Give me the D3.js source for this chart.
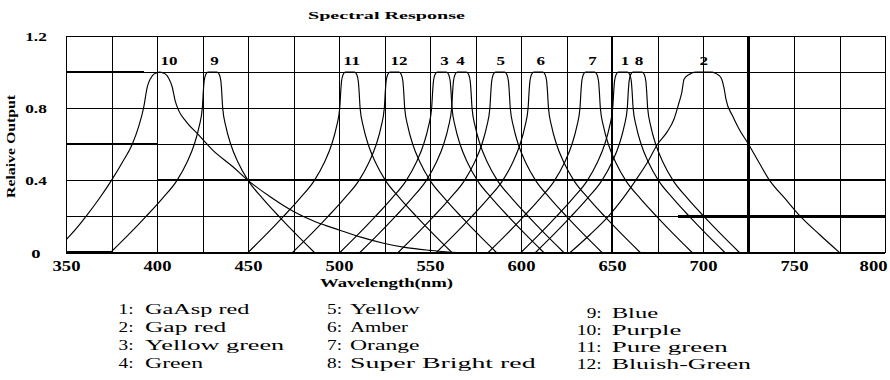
<!DOCTYPE html>
<html><head><meta charset="utf-8">
<script src="https://cdn.jsdelivr.net/npm/d3@7/dist/d3.min.js"></script>
<style>body{margin:0;background:#fff;} svg{display:block;}</style>
</head><body><svg id="c" width="890" height="380"></svg>
<script>
// ---------- data ----------
const title = "Spectral Response";
const xLabel = "Wavelength(nm)";
const yLabel = "Relaive Output";
const xGridValues = [350,375,400,425,450,475,500,525,550,575,600,625,650,675,700,725,750,775,800];
const xTickLabels = [350,400,450,500,550,600,650,700,750,800];
const yGridValues = [0,0.2,0.4,0.6,0.8,1.0,1.2];
const yTickLabels = [0,0.4,0.8,1.2];
// heavier reference segments seen on the grid: [x1, x2, y1, y2]
const heavySegments = [
  [650,650,0,1.2],[725,725,0,1.2],
  [400,800,0.4,0.4],[350,393,1.0,1.0],[350,400,0.6,0.6],
  [686,800,0.2,0.2],[350,375,0,0]
];
const seriesIds = [1,2,3,4,5,6,7,8,9,10,11,12];
const seriesNames = ["GaAsp red","Gap red","Yellow green","Green","Yellow","Amber","Orange",
  "Super Bright red","Blue","Purple","Pure green","Bluish-Green"];
const peakLabelAt = [657.1,700.4,558,566.8,588.9,610.9,639.3,664.8,431.6,406.6,507,533];

const curve1 = [[600,0],[610,0.1],[619.5,0.2],[628.5,0.3],[636.5,0.4],[642,0.5],[646,0.6],[648.7,0.7],[650.4,0.8],[651,0.9],[651.4,0.95],[652.2,0.985],[653.5,1],[658.5,1],[659.8,0.985],[660.6,0.95],[661,0.9],[661.6,0.8],[663.3,0.7],[666,0.6],[670,0.5],[675.5,0.4],[683.5,0.3],[692.5,0.2],[702,0.1],[712,0]];
const curve2 = [[627,0],[638,0.1],[648,0.2],[656,0.3],[663,0.4],[669.5,0.5],[675,0.6],[680.4,0.67],[684.1,0.74],[686.8,0.83],[688.3,0.885],[689.6,0.96],[692.4,0.987],[696,1],[705,1],[707.5,0.99],[709.9,0.969],[711.7,0.904],[712.6,0.85],[716.3,0.756],[719.5,0.69],[725,0.6],[730.7,0.5],[736.6,0.4],[745,0.3],[753.5,0.2],[764,0.1],[775,0]];
const curve3 = [[500.5,0],[510.5,0.1],[520,0.2],[529,0.3],[537,0.4],[542.5,0.5],[546.5,0.6],[549.2,0.7],[550.9,0.8],[551.5,0.9],[551.9,0.95],[552.7,0.985],[554,1],[559,1],[560.3,0.985],[561.1,0.95],[561.5,0.9],[562.1,0.8],[563.8,0.7],[566.5,0.6],[570.5,0.5],[576,0.4],[584,0.3],[593,0.2],[602.5,0.1],[612.5,0]];
const curve4 = [[511.5,0],[521.5,0.1],[531,0.2],[540,0.3],[548,0.4],[553.5,0.5],[557.5,0.6],[560.2,0.7],[561.9,0.8],[562.5,0.9],[562.9,0.95],[563.7,0.985],[565,1],[570,1],[571.3,0.985],[572.1,0.95],[572.5,0.9],[573.1,0.8],[574.8,0.7],[577.5,0.6],[581.5,0.5],[587,0.4],[595,0.3],[604,0.2],[613.5,0.1],[623.5,0]];
const curve5 = [[532.5,0],[542.5,0.1],[552,0.2],[561,0.3],[569,0.4],[574.5,0.5],[578.5,0.6],[581.2,0.7],[582.9,0.8],[583.5,0.9],[583.9,0.95],[584.7,0.985],[586,1],[591,1],[592.3,0.985],[593.1,0.95],[593.5,0.9],[594.1,0.8],[595.8,0.7],[598.5,0.6],[602.5,0.5],[608,0.4],[616,0.3],[625,0.2],[634.5,0.1],[644.5,0]];
const curve6 = [[553.5,0],[563.5,0.1],[573,0.2],[582,0.3],[590,0.4],[595.5,0.5],[599.5,0.6],[602.2,0.7],[603.9,0.8],[604.5,0.9],[604.9,0.95],[605.7,0.985],[607,1],[612,1],[613.3,0.985],[614.1,0.95],[614.5,0.9],[615.1,0.8],[616.8,0.7],[619.5,0.6],[623.5,0.5],[629,0.4],[637,0.3],[646,0.2],[655.5,0.1],[665.5,0]];
const curve7 = [[582,0],[592,0.1],[601.5,0.2],[610.5,0.3],[618.5,0.4],[624,0.5],[628,0.6],[630.7,0.7],[632.4,0.8],[633,0.9],[633.4,0.95],[634.2,0.985],[635.5,1],[640.5,1],[641.8,0.985],[642.6,0.95],[643,0.9],[643.6,0.8],[645.3,0.7],[648,0.6],[652,0.5],[657.5,0.4],[665.5,0.3],[674.5,0.2],[684,0.1],[694,0]];
const curve8 = [[608,0],[618,0.1],[627.5,0.2],[636.5,0.3],[644.5,0.4],[650,0.5],[654,0.6],[656.7,0.7],[658.4,0.8],[659,0.9],[659.4,0.95],[660.2,0.985],[661.5,1],[666.5,1],[667.8,0.985],[668.6,0.95],[669,0.9],[669.6,0.8],[671.3,0.7],[674,0.6],[678,0.5],[683.5,0.4],[691.5,0.3],[700.5,0.2],[710,0.1],[720,0]];
const curve9 = [[374.5,0],[384.5,0.1],[394,0.2],[403,0.3],[411,0.4],[416.5,0.5],[420.5,0.6],[423.2,0.7],[424.9,0.8],[425.5,0.9],[425.9,0.95],[426.7,0.985],[428,1],[433,1],[434.3,0.985],[435.1,0.95],[435.5,0.9],[436.1,0.8],[437.8,0.7],[440.5,0.6],[444.5,0.5],[450,0.4],[458,0.3],[467,0.2],[476.5,0.1],[486.5,0]];
const curve10 = [[350,0.07],[355,0.125],[361,0.2],[368,0.295],[375,0.4],[381,0.5],[386.4,0.6],[390,0.7],[392.6,0.8],[394.7,0.92],[396.5,0.965],[398.5,0.99],[401.5,1],[404.5,0.99],[406.5,0.965],[408.3,0.92],[410,0.84],[412,0.785],[415.7,0.73],[423,0.65],[430.6,0.567],[441.7,0.475],[450,0.4],[462,0.31],[475,0.227],[487,0.17],[500,0.125],[512,0.085],[525,0.05],[537,0.027],[550,0.012],[560,0.003],[567,0]];
const curve11 = [[450,0],[460,0.1],[469.5,0.2],[478.5,0.3],[486.5,0.4],[492,0.5],[496,0.6],[498.7,0.7],[500.4,0.8],[501,0.9],[501.4,0.95],[502.2,0.985],[503.5,1],[508.5,1],[509.8,0.985],[510.6,0.95],[511,0.9],[511.6,0.8],[513.3,0.7],[516,0.6],[520,0.5],[525.5,0.4],[533.5,0.3],[542.5,0.2],[552,0.1],[562,0]];
const curve12 = [[474.5,0],[484.5,0.1],[494,0.2],[503,0.3],[511,0.4],[516.5,0.5],[520.5,0.6],[523.2,0.7],[524.9,0.8],[525.5,0.9],[525.9,0.95],[526.7,0.985],[528,1],[533,1],[534.3,0.985],[535.1,0.95],[535.5,0.9],[536.1,0.8],[537.8,0.7],[540.5,0.6],[544.5,0.5],[550,0.4],[558,0.3],[567,0.2],[576.5,0.1],[586.5,0]];
const curves = [curve1,curve2,curve3,curve4,curve5,curve6,curve7,curve8,curve9,curve10,curve11,curve12];

// ---------- layout ----------
const svg = d3.select("#c");
const W = 890, L = 66, R = 885, T = 36, B = 252.5;
const x = d3.scaleLinear().domain([350,800]).range([L,R]);
const y = d3.scaleLinear().domain([0,1.2]).range([B,T]);
const serif = "'Liberation Serif','DejaVu Serif',serif";
const numW = s => String(s).split("").reduce((a,c)=>a+(c==="."?3:9.3),0);

svg.append("rect").attr("width",W).attr("height",380).attr("fill","#fff");

// grid via axes
const gx = svg.append("g").attr("transform",`translate(0,${B})`)
  .call(d3.axisBottom(x).tickValues(xGridValues).tickSize(-(B-T))
    .tickFormat(d => xTickLabels.includes(d) ? d : ""));
gx.select(".domain").remove();
gx.selectAll("line").attr("stroke","#000").attr("stroke-width",1).attr("shape-rendering","crispEdges");
gx.selectAll("text").attr("y",18).attr("dy",0).attr("fill","#000")
  .style("font-family",serif).style("font-weight","bold").style("font-size","14px")
  .each(function(d){
    if (!xTickLabels.includes(d)) return;
    const s = d3.select(this).attr("textLength",numW(d)).attr("lengthAdjust","spacingAndGlyphs");
    // keep the last label inside the picture
    if (x(d) + numW(d)/2 > W - 3) s.attr("text-anchor","end").attr("x", (W - 3) - x(d));
  });

const gy = svg.append("g").attr("transform",`translate(${L},0)`)
  .call(d3.axisLeft(y).tickValues(yGridValues).tickSize(-(R-L))
    .tickFormat(d => yTickLabels.includes(d) ? String(d) : ""));
gy.select(".domain").remove();
gy.selectAll("line").attr("stroke","#000").attr("stroke-width",1).attr("shape-rendering","crispEdges");
gy.selectAll("text").attr("x",-30).attr("dy","0.35em").attr("text-anchor","middle").attr("fill","#000")
  .style("font-family",serif).style("font-weight","bold").style("font-size","13px")
  .each(function(d){ if (yTickLabels.includes(d)) d3.select(this).attr("textLength",numW(d)).attr("lengthAdjust","spacingAndGlyphs"); });

// frame
svg.append("rect").attr("x",L).attr("y",T).attr("width",R-L).attr("height",B-T)
  .attr("fill","none").attr("stroke","#000").attr("stroke-width",1).attr("shape-rendering","crispEdges");

// heavy segments
svg.append("g").selectAll("line").data(heavySegments).join("line")
  .attr("x1",d=>x(d[0])).attr("x2",d=>x(d[1])).attr("y1",d=>y(d[2])).attr("y2",d=>y(d[3]))
  .attr("stroke","#000").attr("stroke-width",2.2).attr("shape-rendering","crispEdges");

// curves
svg.append("clipPath").attr("id","pc").append("rect").attr("x",L).attr("y",T-5).attr("width",R-L).attr("height",B-T+5);
const line = d3.line().x(d=>x(d[0])).y(d=>y(d[1])).curve(d3.curveMonotoneX);
svg.append("g").attr("clip-path","url(#pc)").selectAll("path").data(curves).join("path")
  .attr("d",line).attr("fill","none").attr("stroke","#000").attr("stroke-width",1.15);

// peak labels
svg.append("g").selectAll("text").data(seriesIds).join("text")
  .attr("x",(d,i)=>x(peakLabelAt[i])).attr("y",y(1.0)-7).attr("text-anchor","middle")
  .style("font-family",serif).style("font-weight","bold").style("font-size","13px")
  .attr("textLength",d=>String(d).length*8.5).attr("lengthAdjust","spacingAndGlyphs")
  .text(d=>d);

// titles
svg.append("text").attr("x",386.5).attr("y",18.5).attr("text-anchor","middle")
  .style("font-family",serif).style("font-weight","bold").style("font-size","11px")
  .attr("textLength",157).attr("lengthAdjust","spacingAndGlyphs").text(title);
svg.append("text").attr("x",386.5).attr("y",287).attr("text-anchor","middle")
  .style("font-family",serif).style("font-weight","bold").style("font-size","11.5px")
  .attr("textLength",133).attr("lengthAdjust","spacingAndGlyphs").text(xLabel);
svg.append("text").attr("transform","translate(15,146.5) rotate(-90)").attr("text-anchor","middle")
  .style("font-family",serif).style("font-weight","bold").style("font-size","12px")
  .attr("textLength",103).attr("lengthAdjust","spacingAndGlyphs").text(yLabel);

// legend
const colNumEnd = [133.5, 342, 601.7];
const colName = [145, 350, 611.7];
const rowBase = [[314,332,350,367.5],[314,332,350,367.5],[317.5,334.5,351.5,369]];
const lg = svg.append("g").style("font-family",serif).style("font-size","14.5px");
seriesIds.forEach((id,i)=>{
  const c = Math.floor(i/4), r = i%4;
  lg.append("text").attr("x",colNumEnd[c]).attr("y",rowBase[c][r]).attr("text-anchor","end")
    .attr("textLength",String(id).length*10+5).attr("lengthAdjust","spacingAndGlyphs").text(id+":");
  lg.append("text").attr("x",colName[c]).attr("y",rowBase[c][r])
    .attr("textLength",seriesNames[i].length*11.6).attr("lengthAdjust","spacingAndGlyphs").text(seriesNames[i]);
});
</script></body></html>
